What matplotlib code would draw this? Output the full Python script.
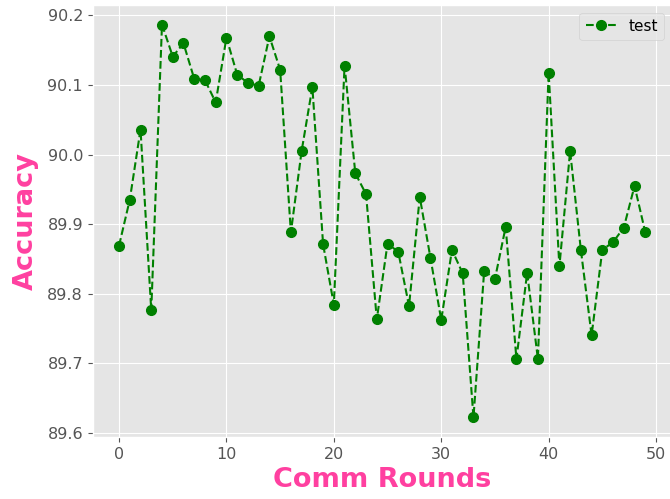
import matplotlib
matplotlib.use('Agg')
import matplotlib.pyplot as plt
import numpy as np

plt.style.use('ggplot')

# accuracy per communication round
rounds = np.arange(50)
accuracy = [
    89.869, 89.935, 90.036, 89.776, 90.187, 90.141, 90.160, 90.109, 90.107, 90.075,
    90.168, 90.115, 90.103, 90.099, 90.170, 90.122, 89.888, 90.005, 90.097, 89.871,
    89.784, 90.128, 89.973, 89.943, 89.763, 89.872, 89.860, 89.782, 89.939, 89.851,
    89.762, 89.863, 89.829, 89.622, 89.833, 89.821, 89.896, 89.706, 89.830, 89.706,
    90.118, 89.839, 90.005, 89.863, 89.740, 89.863, 89.874, 89.895, 89.955, 89.888,
]

fig = plt.figure(figsize=(6.7, 4.99), dpi=100)
ax = fig.add_axes([0.1384, 0.1242, 0.864, 0.866])

ax.plot(rounds, accuracy, linestyle='--', marker='o', color='green',
        markersize=7, linewidth=1.5, label='test')

ax.set_xticks([0, 10, 20, 30, 40, 50])
ax.set_yticks([89.6, 89.7, 89.8, 89.9, 90.0, 90.1, 90.2])
ax.tick_params(axis='both', labelsize=11.5, colors='#555555')

pink = '#ff40a0'
ax.set_xlabel('Comm Rounds', fontsize=19.5, fontweight='bold', color=pink)
ax.set_ylabel('Accuracy', fontsize=19.5, fontweight='bold', color=pink, labelpad=6)

ax.legend(loc='upper right', fontsize=11)

plt.savefig('out.png', dpi=100)
